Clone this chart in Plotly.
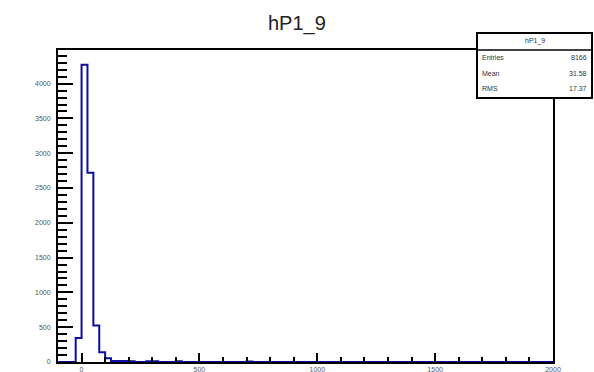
import numpy as np
import plotly.graph_objects as go

# ---- data ----
title = "hP1_9"
x_min, x_max, bin_width = -100, 2000, 25
# lower edges of non-empty bins and their contents
filled_bin_lows = [-25, 0, 25, 50, 75, 100, 125, 150, 175, 200, 275, 300, 400, 700]
filled_counts = [345, 4270, 2720, 525, 140, 55, 15, 14, 13, 12, 12, 10, 12, 8]
stat_names = ["Entries", "Mean", "RMS"]
stat_values = ["8166", "31.58", "17.37"]
x_tick_labels = ["0", "500", "1000", "1500", "2000"]
x_tick_vals = [0, 500, 1000, 1500, 2000]

# ---- build full histogram ----
edges = np.arange(x_min, x_max + bin_width, bin_width)
counts = np.zeros(len(edges) - 1)
for lo, c in zip(filled_bin_lows, filled_counts):
    counts[int(round((lo - x_min) / bin_width))] = c

xs = list(edges)
ys = list(counts) + [counts[-1]]

W, H = 594, 372
L, R, T, B = 58, 553, 50, 362


def px(x):
    return (x - L) / (R - L)


def py(y):
    return (B - y) / (B - T)


fig = go.Figure()
fig.add_trace(go.Scatter(
    x=xs, y=ys, mode="lines", line=dict(shape="hv", color="#0c0ca0", width=2),
    hoverinfo="skip", showlegend=False,
))

axis_font = dict(family="Liberation Sans, Arial, sans-serif", size=7, color="#555")
ymax = 1.05 * max(filled_counts)

fig.update_layout(
    width=W, height=H,
    margin=dict(l=L, r=W - R, t=T, b=H - B, pad=0, autoexpand=False),
    paper_bgcolor="white", plot_bgcolor="white",
    showlegend=False,
    xaxis=dict(
        range=[x_min, x_max], showgrid=False, zeroline=False, automargin=False,
        showline=True, linecolor="black", linewidth=2, mirror=True,
        ticks="inside", ticklen=9, tickwidth=1.5, tickcolor="black",
        tickvals=x_tick_vals, ticktext=x_tick_labels, tickfont=axis_font,
        minor=dict(ticks="inside", ticklen=5, tickwidth=1.5, tickcolor="black",
                   dtick=100, tick0=0, showgrid=False),
    ),
    yaxis=dict(
        range=[0, ymax], showgrid=False, zeroline=False, automargin=False,
        showline=True, linecolor="black", linewidth=2, mirror=True,
        ticks="inside", ticklen=15, tickwidth=1.5, tickcolor="black",
        tick0=0, dtick=500, tickfont=axis_font, ticklabelstandoff=4,
        minor=dict(ticks="inside", ticklen=9, tickwidth=1.5, tickcolor="black",
                   dtick=100, tick0=0, showgrid=False),
    ),
)

# title
fig.add_annotation(
    text=title, xref="paper", yref="paper", x=px(W / 2), y=py(23),
    xanchor="center", yanchor="middle", showarrow=False,
    font=dict(family="Liberation Sans, Arial, sans-serif", size=20, color="#222"),
)

# stats box
bx0, bx1, by0, by1, bhead = 477, 592, 33, 98, 50
fig.add_shape(type="rect", xref="paper", yref="paper",
              x0=px(bx0), x1=px(bx1), y0=py(by1), y1=py(by0),
              line=dict(color="black", width=2), fillcolor="white", layer="above")
fig.add_shape(type="line", xref="paper", yref="paper",
              x0=px(bx0), x1=px(bx1), y0=py(bhead), y1=py(bhead),
              line=dict(color="black", width=1.5), layer="above")
stat_font = dict(family="Liberation Sans, Arial, sans-serif", size=7, color="#333")
fig.add_annotation(text=title, xref="paper", yref="paper",
                   x=px((bx0 + bx1) / 2), y=py(41), xanchor="center", yanchor="middle",
                   showarrow=False, font=stat_font)
row_y = [57, 74, 88]
for name, val, ry in zip(stat_names, stat_values, row_y):
    fig.add_annotation(text=name, xref="paper", yref="paper",
                       x=px(bx0 + 3), y=py(ry), xanchor="left", yanchor="middle",
                       showarrow=False, font=stat_font)
    fig.add_annotation(text=val, xref="paper", yref="paper",
                       x=px(bx1 - 3), y=py(ry), xanchor="right", yanchor="middle",
                       showarrow=False, font=stat_font)

fig.write_html("out.html", config={"displayModeBar": False},
               post_script="document.body.style.margin='0';document.body.style.overflow='hidden';")
